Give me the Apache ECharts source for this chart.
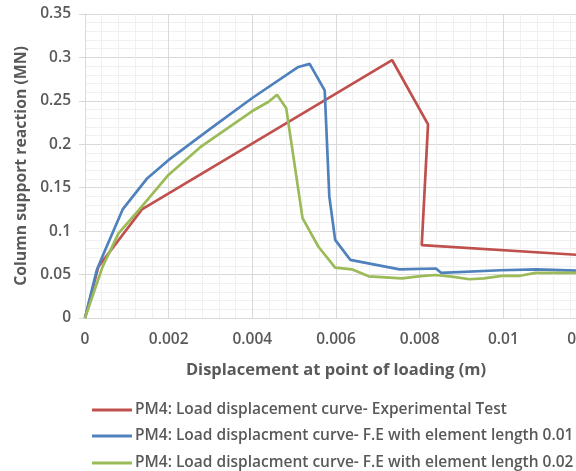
<!DOCTYPE html>
<html>
<head>
<meta charset="utf-8">
<script src="https://cdn.jsdelivr.net/npm/echarts@6/dist/echarts.min.js"></script>
<style>
    html, body { margin: 0; padding: 0; background: #fff; }
    #chart { width: 576px; height: 471px; }
</style>
</head>
<body>
<div id="chart"></div>
<script>
// series names
var seriesNames = [
    'PM4: Load displacement curve- Experimental Test',
    'PM4: Load displacment curve- F.E with element length 0.01',
    'PM4: Load displacment curve- F.E with element length 0.02'
];
// experimental test
var expX = [0, 0.00032, 0.00136, 0.00734, 0.0082, 0.00805, 0.012];
var expY = [0, 0.059, 0.125, 0.297, 0.223, 0.084, 0.072];
// F.E element length 0.01
var fe01X = [0, 0.00028, 0.00048, 0.0009, 0.00149, 0.002, 0.003, 0.00399, 0.0051, 0.00537,
    0.00573, 0.00584, 0.00598, 0.00634, 0.00752, 0.00839, 0.00851, 0.00993, 0.0108, 0.012];
var fe01Y = [0, 0.055, 0.078, 0.125, 0.161, 0.182, 0.218, 0.253, 0.289, 0.2926,
    0.262, 0.14, 0.09, 0.067, 0.056, 0.057, 0.052, 0.055, 0.056, 0.054];
// F.E element length 0.02
var fe02X = [0, 0.00042, 0.0008, 0.00128, 0.002, 0.00279, 0.00399, 0.00439, 0.00459, 0.00481,
    0.0052, 0.00558, 0.00598, 0.00638, 0.00678, 0.00758, 0.00797, 0.00837, 0.00877, 0.00919,
    0.00953, 0.00997, 0.01037, 0.01077, 0.012];
var fe02Y = [0, 0.059, 0.0975, 0.124, 0.165, 0.198, 0.238, 0.249, 0.257, 0.2415,
    0.115, 0.082, 0.058, 0.056, 0.048, 0.0457, 0.048, 0.0495, 0.0476, 0.0446,
    0.0457, 0.0484, 0.0484, 0.052, 0.052];

var colors = ['#C0504D', '#4F81BD', '#9BBB59'];
var xs = [expX, fe01X, fe02X];
var ys = [expY, fe01Y, fe02Y];
var legendTops = [397, 423, 450];

var textColor = '#595959';
var fontFamily = '"Open Sans", "Noto Sans", sans-serif';

var series = [];
var legends = [];
for (var i = 0; i < seriesNames.length; i++) {
    var pts = [];
    for (var j = 0; j < xs[i].length; j++) {
        pts.push([xs[i][j], ys[i][j]]);
    }
    series.push({
        name: seriesNames[i],
        type: 'line',
        data: pts,
        showSymbol: false,
        symbol: 'none',
        lineStyle: { color: colors[i], width: 2.7 },
        itemStyle: { color: colors[i] }
    });
    // one legend per row, like the excel layout
    legends.push({
        orient: 'vertical',
        left: 87,
        top: legendTops[i],
        icon: 'rect',
        itemWidth: 40,
        itemHeight: 3,
        textStyle: {
            color: textColor,
            fontSize: 15.5,
            fontWeight: 600,
            fontFamily: fontFamily,
            padding: [0, 0, 0, -2]
        },
        data: [seriesNames[i]]
    });
}

var chart = echarts.init(document.getElementById('chart'));
chart.setOption({
    animation: false,
    grid: {
        left: 85,
        top: 14,
        bottom: 153,
        right: -11,
        outerBoundsMode: 'none',
        containLabel: false
    },
    legend: legends,
    xAxis: {
        type: 'value',
        min: 0,
        max: 0.012,
        interval: 0.002,
        name: 'Displacement at point of loading (m)',
        nameLocation: 'middle',
        nameGap: 44,
        nameTextStyle: { color: textColor, fontSize: 16.5, fontWeight: 'bold', fontFamily: fontFamily },
        axisLine: { show: true, lineStyle: { color: '#d9d9d9' } },
        axisTick: { show: false },
        axisLabel: { color: textColor, fontSize: 15.5, fontWeight: 600, fontFamily: fontFamily, margin: 14 },
        splitLine: { show: true, lineStyle: { color: '#d9d9d9' } },
        minorSplitLine: { show: true, lineStyle: { color: '#f0f0f0' } },
        minorTick: { show: false, splitNumber: 5 }
    },
    yAxis: {
        type: 'value',
        min: 0,
        max: 0.35,
        interval: 0.05,
        name: 'Column support reaction (MN)',
        nameLocation: 'middle',
        nameRotate: 90,
        nameGap: 54,
        nameTextStyle: { color: textColor, fontSize: 15.8, fontWeight: 'bold', fontFamily: fontFamily },
        axisLine: { show: true, lineStyle: { color: '#d9d9d9' } },
        axisTick: { show: true, length: 6, lineStyle: { color: '#d9d9d9' } },
        axisLabel: { color: textColor, fontSize: 15.5, fontWeight: 600, fontFamily: fontFamily, margin: 14 },
        splitLine: { show: true, lineStyle: { color: '#d9d9d9' } },
        minorSplitLine: { show: true, lineStyle: { color: '#f0f0f0' } },
        minorTick: { show: false, splitNumber: 5 }
    },
    series: series
});

window.addEventListener('resize', function () {
    chart.resize();
});
</script>
</body>
</html>
